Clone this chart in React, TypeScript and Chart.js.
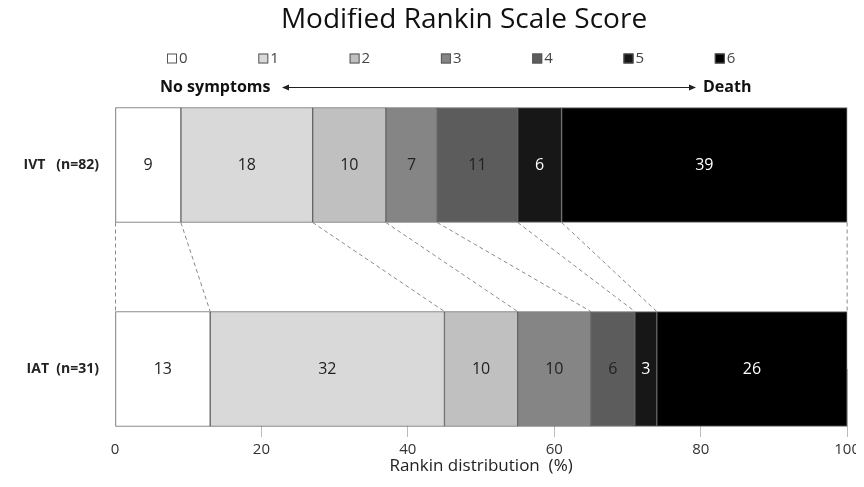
import React, { useEffect, useRef } from 'react';
import { Chart, registerables } from 'chart.js';

Chart.register(...registerables);

const groups = ['IVT   (n=82)', 'IAT  (n=31)'];
const scores = ['0', '1', '2', '3', '4', '5', '6'];
const ivtValues = [9, 18, 10, 7, 11, 6, 39];
const iatValues = [13, 32, 10, 10, 6, 3, 26];
const fillColors = ['#ffffff', '#d9d9d9', '#c0c0c0', '#858585', '#5c5c5c', '#171717', '#000000'];
const textColors = ['#222222', '#222222', '#222222', '#222222', '#222222', '#ffffff', '#ffffff'];
const titleText = 'Modified Rankin Scale Score';
const leftEndText = 'No symptoms';
const rightEndText = 'Death';
const xTitleText = 'Rankin distribution  (%)';

const FONT = '"Open Sans", "Noto Sans", sans-serif';
const W = 856;
const H = 471;

const overlayPlugin = {
  id: 'overlay',
  afterDatasetsDraw(chart: any) {
    const ctx = chart.ctx;
    const metas = scores.map((_, i) => chart.getDatasetMeta(i));
    ctx.save();
    ctx.strokeStyle = '#8a8a8a';
    ctx.lineWidth = 1;
    ctx.setLineDash([4, 3]);
    const top0 = metas[0].data[0];
    const top1 = metas[0].data[1];
    const yA = top0.y + top0.height / 2;
    const yB = top1.y - top1.height / 2;
    const bounds: [number, number][] = [[top0.base, top1.base]];
    metas.forEach((m: any) => bounds.push([m.data[0].x, m.data[1].x]));
    bounds.forEach(([a, b]) => {
      ctx.beginPath();
      ctx.moveTo(a, yA);
      ctx.lineTo(b, yB);
      ctx.stroke();
    });
    ctx.restore();
    ctx.save();
    ctx.font = `16px ${FONT}`;
    ctx.textAlign = 'center';
    ctx.textBaseline = 'middle';
    metas.forEach((m: any, i: number) => {
      m.data.forEach((el: any, j: number) => {
        const v = chart.data.datasets[i].data[j];
        ctx.fillStyle = textColors[i];
        ctx.fillText(String(v), (el.x + el.base) / 2, el.y);
      });
    });
    ctx.restore();
  },
  afterDraw(chart: any) {
    const ctx = chart.ctx;
    ctx.save();
    ctx.fillStyle = '#111';
    ctx.font = `28px ${FONT}`;
    ctx.textAlign = 'center';
    ctx.textBaseline = 'middle';
    ctx.fillText(titleText, 456, 12);
    ctx.font = `15px ${FONT}`;
    ctx.textAlign = 'left';
    scores.forEach((s, i) => {
      const x = 159 + i * 91.3;
      const y = 50;
      ctx.fillStyle = fillColors[i];
      ctx.fillRect(x, y - 4.5, 10, 10);
      ctx.strokeStyle = '#555';
      ctx.lineWidth = 1;
      ctx.strokeRect(x + 0.5, y - 4, 9, 9);
      ctx.fillStyle = '#444';
      ctx.fillText(s, x + 12, y + 1);
    });
    const ay = 79;
    ctx.font = `bold 16px ${FONT}`;
    ctx.fillStyle = '#111';
    ctx.fillText(leftEndText, 152, ay);
    ctx.fillText(rightEndText, 695, ay);
    ctx.strokeStyle = '#222';
    ctx.lineWidth = 1;
    ctx.beginPath();
    ctx.moveTo(276, ay + 0.5);
    ctx.lineTo(686, ay + 0.5);
    ctx.stroke();
    ctx.fillStyle = '#222';
    ctx.beginPath();
    ctx.moveTo(274, ay + 0.5);
    ctx.lineTo(281, ay - 2.5);
    ctx.lineTo(281, ay + 3.5);
    ctx.closePath();
    ctx.fill();
    ctx.beginPath();
    ctx.moveTo(688, ay + 0.5);
    ctx.lineTo(681, ay - 2.5);
    ctx.lineTo(681, ay + 3.5);
    ctx.closePath();
    ctx.fill();
    ctx.restore();
  },
};

export default function App() {
  const ref = useRef<HTMLCanvasElement | null>(null);
  useEffect(() => {
    if (!ref.current) return;
    const datasets = scores.map((s, i) => ({
      label: s,
      data: [ivtValues[i], iatValues[i]],
      backgroundColor: fillColors[i],
      borderColor: '#666666',
      borderWidth: 1,
      borderSkipped: false as const,
      barThickness: 115,
      clip: false as const,
    }));
    const chart = new Chart(ref.current, {
      type: 'bar',
      data: { labels: groups, datasets },
      options: {
        animation: false,
        responsive: false,
        devicePixelRatio: 1,
        indexAxis: 'y',
        layout: { padding: { top: 157, right: 13, left: 0, bottom: 0 } },
        plugins: {
          legend: { display: false },
          title: { display: false },
          tooltip: { enabled: false },
        },
        scales: {
          y: {
            type: 'category',
            stacked: true,
            offset: false,
            grid: { display: false, drawTicks: false },
            border: { display: false },
            ticks: {
              color: '#222',
              font: { family: FONT, size: 14, weight: 'bold' },
              padding: 16,
            },
            afterFit: (s: any) => {
              s.width = 107;
            },
          },
          x: {
            type: 'linear',
            stacked: true,
            min: 0,
            max: 100,
            ticks: {
              stepSize: 20,
              color: '#333',
              font: { family: FONT, size: 15 },
              padding: 4,
            },
            grid: {
              drawOnChartArea: false,
              drawTicks: true,
              tickLength: 68,
              color: (c: any) => (c.index === 0 ? 'rgba(0,0,0,0)' : '#bbbbbb'),
              lineWidth: 1,
            },
            border: { display: false },
            title: {
              display: true,
              text: xTitleText,
              color: '#222',
              font: { family: FONT, size: 17 },
              padding: { top: 0, bottom: 3 },
            },
            afterFit: (s: any) => {
              s.height = 110;
            },
          },
        },
      },
      plugins: [overlayPlugin],
    });
    return () => chart.destroy();
  }, []);
  return (
    <div style={{ width: W, height: H }}>
      <canvas ref={ref} width={W} height={H} style={{ display: 'block', width: W, height: H }} />
    </div>
  );
}
